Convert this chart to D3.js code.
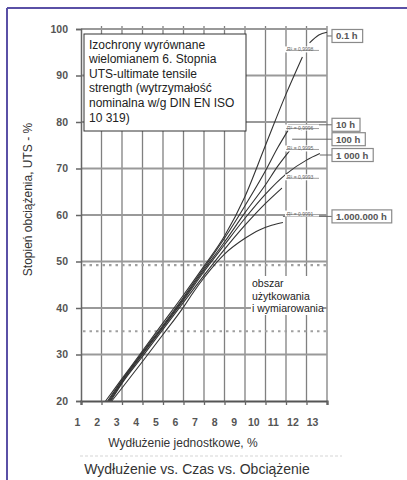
<!DOCTYPE html>
<html>
<head>
<meta charset="utf-8">
<script src="https://cdn.jsdelivr.net/npm/d3@7"></script>
<style>
body { margin: 0; background: #fff; }
svg text { font-family: "Liberation Sans", Arial, sans-serif; }
</style>
</head>
<body>
<div id="viz"></div>
<script>
// axis ticks
var xTicks = [1, 2, 3, 4, 5, 6, 7, 8, 9, 10, 11, 12, 13];
var yTicks = [20, 30, 40, 50, 60, 70, 80, 90, 100];
var dashedLevels = [49.2, 35];

// isochrones (elongation %, load % UTS)
var iso01h = [[2.2,20],[3,24.8],[4,30.8],[5,36.8],[6,42.8],[7,49],[8,55.5],[9,64],[10,75],[11,86],[11.8,94]];
var iso01hTail = [[12.15,97],[12.6,98.7],[13,99.3]];
var iso10h = [[2.3,20],[3,24.5],[4,30.5],[5,36.3],[6,42.3],[7,48.6],[8,55],[9,62],[10,69.5],[10.6,74.5],[11.1,78.2]];
var iso100h = [[2.35,20],[3,24.3],[4,30.2],[5,36],[6,42],[7,48.2],[8,54.2],[9,60.5],[10,66.5],[10.6,70.5],[11.3,74.5]];
var iso1000h = [[2.4,20],[3,24],[4,30],[5,35.8],[6,41.7],[7,47.8],[8,53.6],[9,59.3],[10,64.5],[11,68.8],[12,71.8],[12.65,73.2]];
var iso10000h = [[2.45,20],[3,23.8],[4,29.6],[5,35.4],[6,41.2],[7,47],[8,52.6],[9,57.8],[10,62.5],[10.8,65.8]];
var iso1Mh = [[2.5,20],[3,22.8],[4,28.5],[5,34.3],[6,40.2],[6.5,43.5],[7,46.5],[8,51.6],[9,55],[9.7,56.8],[10.3,57.8],[10.85,58.4]];

// labels on the right
var timeLabels = ["0.1 h", "10 h", "100 h", "1 000 h", "1.000.000 h"];
var timeLevels = [98.5, 79.4, 76.3, 72.9, 59.7];
var leaderFrom = [13, 11.1, 11.3, 12.65, 10.85];

var r2Texts = ["R² = 0,9998", "R² = 0,9996", "R² = 0,9995", "R² = 0,9993", "R² = 0,9991"];
var r2Levels = [95.5, 78.7, 74.2, 68.0, 60.2];

var infoLines = ["Izochrony wyrównane", "wielomianem 6. Stopnia", "UTS-ultimate tensile",
                 "strength (wytrzymałość", "nominalna w/g DIN EN ISO", "10 319)"];
var zoneLines = ["obszar", "użytkowania", "i wymiarowania"];

var svg = d3.select("#viz")
        .append("svg")
        .attr("width", 407)
        .attr("height", 480);

var x = d3.scaleLinear().domain([1, 13]).range([81, 327]);
// tick labels in the scan sit a bit left of the grid
var xLab = d3.scaleLinear().domain([1, 13]).range([77, 312]);
var y = d3.scaleLinear().domain([20, 100]).range([401, 29]);

// frame
svg.append("line").attr("x1", 7).attr("y1", 8).attr("x2", 407).attr("y2", 8)
    .style("stroke", "#5a50a6").style("stroke-width", 2);
svg.append("line").attr("x1", 7).attr("y1", 8).attr("x2", 7).attr("y2", 480)
    .style("stroke", "#5a50a6").style("stroke-width", 2);

// grid
svg.selectAll("line.vgrid")
    .data(xTicks.slice(1))
    .enter()
    .append("line")
    .attr("class", "vgrid")
    .attr("x1", function(d) { return x(d); })
    .attr("x2", function(d) { return x(d); })
    .attr("y1", y(100) - 3)
    .attr("y2", y(20))
    .style("stroke", "#808080")
    .style("stroke-width", 1.3);

svg.selectAll("line.hgrid")
    .data(yTicks.slice(1))
    .enter()
    .append("line")
    .attr("class", "hgrid")
    .attr("x1", x(1))
    .attr("x2", x(13))
    .attr("y1", function(d) { return y(d); })
    .attr("y2", function(d) { return y(d); })
    .style("stroke", "#999")
    .style("stroke-width", 1.8);

svg.selectAll("line.dash")
    .data(dashedLevels)
    .enter()
    .append("line")
    .attr("class", "dash")
    .attr("x1", x(1) + 2)
    .attr("x2", x(13))
    .attr("y1", function(d) { return y(d); })
    .attr("y2", function(d) { return y(d); })
    .style("stroke", "#a0a0a0")
    .style("stroke-width", 2.2)
    .style("stroke-dasharray", "2.5,4");

// axes
var yAxis = svg.append("g")
    .attr("transform", "translate(" + x(1) + ",0)")
    .call(d3.axisLeft(y).tickValues(yTicks).tickSize(5).tickPadding(8));
yAxis.select(".domain").style("stroke", "#666").style("stroke-width", 1.5);
yAxis.selectAll(".tick line").style("stroke", "#666").style("stroke-width", 1.5);
yAxis.selectAll("text").style("font-size", "10.5px").style("font-weight", "bold").style("fill", "#555");

var xAxis = svg.append("g")
    .attr("transform", "translate(0," + y(20) + ")")
    .call(d3.axisBottom(x).tickValues(xTicks).tickSize(4).tickFormat(""));
xAxis.select(".domain").style("stroke", "#555").style("stroke-width", 2.2);
xAxis.selectAll(".tick line").style("stroke", "#666").style("stroke-width", 1.3);

var xLabels = svg.append("g")
    .attr("transform", "translate(0," + y(20) + ")")
    .call(d3.axisBottom(xLab).tickValues(xTicks).tickSize(0).tickPadding(18));
xLabels.select(".domain").remove();
xLabels.selectAll("text").style("font-size", "10.5px").style("font-weight", "bold").style("fill", "#555");

// curves
var line = d3.line()
    .x(function(d) { return x(d[0]); })
    .y(function(d) { return y(d[1]); })
    .curve(d3.curveMonotoneX);

svg.selectAll("path.iso")
    .data([iso01h, iso01hTail, iso10h, iso100h, iso1000h, iso10000h, iso1Mh])
    .enter()
    .append("path")
    .attr("class", "iso")
    .attr("d", line)
    .style("fill", "none")
    .style("stroke", "#333")
    .style("stroke-width", 1.1);

// leaders to right boxes
svg.selectAll("line.leader")
    .data(timeLabels)
    .enter()
    .append("line")
    .attr("class", "leader")
    .attr("x1", function(d, i) { return x(leaderFrom[i]); })
    .attr("x2", 332)
    .attr("y1", function(d, i) { return y(timeLevels[i]); })
    .attr("y2", function(d, i) { return y(timeLevels[i]); })
    .style("stroke", "#666")
    .style("stroke-width", 1);

// R² tags
var r2 = svg.selectAll("g.r2")
    .data(r2Texts)
    .enter()
    .append("g")
    .attr("class", "r2")
    .attr("transform", function(d, i) { return "translate(" + x(11) + "," + y(r2Levels[i]) + ")"; });
r2.append("rect")
    .attr("x", -1).attr("y", -3.5).attr("width", 34).attr("height", 6)
    .style("fill", "#fff");
r2.append("line")
    .attr("x1", 0).attr("x2", 33).attr("y1", 0.5).attr("y2", 0.5)
    .style("stroke", "#888").style("stroke-width", 0.8);
r2.append("text")
    .attr("x", 1).attr("y", 1.5)
    .style("font-size", "5px").style("fill", "#666")
    .text(function(d) { return d; });

// right boxes
var tl = svg.selectAll("g.tl")
    .data(timeLabels)
    .enter()
    .append("g")
    .attr("class", "tl")
    .attr("transform", function(d, i) { return "translate(332," + y(timeLevels[i]) + ")"; });
tl.append("rect")
    .attr("y", -6.5).attr("height", 13)
    .style("fill", "#fff")
    .style("stroke", "#8a8a8a")
    .style("stroke-width", 1.2);
tl.append("text")
    .attr("x", 4).attr("y", 3.5)
    .style("font-size", "9.5px").style("font-weight", "bold").style("fill", "#555")
    .text(function(d) { return d; })
    .each(function() {
        var w = this.getComputedTextLength();
        d3.select(this.parentNode).select("rect").attr("width", w + 9);
    });

// info box
svg.append("rect")
    .attr("x", 84).attr("y", 34).attr("width", 162).attr("height", 97)
    .style("fill", "#fff").style("stroke", "#333").style("stroke-width", 1);
svg.selectAll("text.info")
    .data(infoLines)
    .enter()
    .append("text")
    .attr("class", "info")
    .attr("x", 89)
    .attr("y", function(d, i) { return 48.5 + i * 14.6; })
    .style("font-size", "12px")
    .style("fill", "#222")
    .text(function(d) { return d; });

// usage zone note
svg.append("rect")
    .attr("x", 251).attr("y", 276).attr("width", 72).attr("height", 39)
    .style("fill", "#fff");
svg.selectAll("text.zone")
    .data(zoneLines)
    .enter()
    .append("text")
    .attr("class", "zone")
    .attr("x", 252)
    .attr("y", function(d, i) { return 287 + i * 12.6; })
    .style("font-size", "10.5px")
    .style("fill", "#222")
    .text(function(d) { return d; });

// titles
svg.append("text")
    .attr("transform", "translate(32,199.5) rotate(-90)")
    .attr("text-anchor", "middle")
    .style("font-size", "12px")
    .style("fill", "#333")
    .text("Stopień obciążenia, UTS - %");

svg.append("text")
    .attr("x", 183).attr("y", 447)
    .attr("text-anchor", "middle")
    .style("font-size", "12px")
    .style("fill", "#333")
    .text("Wydłużenie jednostkowe, %");

svg.append("line")
    .attr("x1", 80).attr("x2", 342).attr("y1", 456).attr("y2", 456)
    .style("stroke", "#e4e4e4").style("stroke-width", 1.5)
    .style("stroke-dasharray", "3,2");

svg.append("text")
    .attr("x", 197).attr("y", 474)
    .attr("text-anchor", "middle")
    .style("font-size", "14px")
    .style("fill", "#333")
    .text("Wydłużenie vs. Czas vs. Obciążenie");
</script>
</body>
</html>
